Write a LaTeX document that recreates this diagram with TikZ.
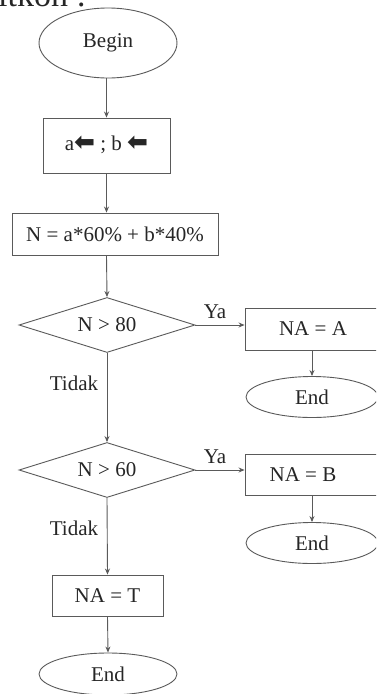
\documentclass[tikz,border=0pt]{standalone}
\usepackage{fontspec}
\setmainfont{Liberation Serif}
\newfontfamily\symfont{DejaVu Sans}
\usetikzlibrary{shapes.geometric,arrows.meta}
\definecolor{inkline}{HTML}{5A5A5A}
\definecolor{inktext}{HTML}{262626}
\newcommand{\leftarr}{{\symfont\bfseries\fontsize{25}{25}\selectfont ⬅}}
\tikzset{
  base/.style={draw=inkline, line width=0.9pt, text=inktext, font=\fontsize{21}{24}\selectfont, inner sep=0pt},
  terminal/.style={base, ellipse},
  procbox/.style={base, rectangle},
  decision/.style={base, diamond, aspect=3.2},
  flow/.style={draw=inkline, line width=0.9pt, -{Stealth[length=6pt,width=5pt]}},
  tag/.style={text=inktext, font=\fontsize{21}{24}\selectfont, inner sep=0pt},
}
\begin{document}
\begin{tikzpicture}[x=1pt, y=-1pt]
  \useasboundingbox (0,0) rectangle (376,694);
  \clip (0,0) rectangle (376,694);
  \fill[white] (0,0) rectangle (376,694);

  % heading line, mostly above the page edge
  \node[tag, anchor=base west, font=\fontsize{34}{38}\selectfont] (head) at (-2,6) {itkon :};

  % main column
  \node[terminal, minimum width=138pt, minimum height=70pt] (begin) at (108,43) {\raisebox{4pt}{Begin}};
  \node[procbox, minimum width=127pt, minimum height=55pt] (input) at (106.5,145.5)
    {\raisebox{5pt}{a\leftarr\ ; b \leftarr}};
  \node[procbox, minimum width=206pt, minimum height=42pt] (calc) at (115,234) {N = a*60\% + b*40\%};
  \node[decision, minimum width=176pt, minimum height=55pt] (d1) at (107,325) {N > 80};
  \node[decision, minimum width=176pt, minimum height=55pt] (d2) at (107,470) {N > 60};
  \node[procbox, minimum width=111pt, minimum height=41pt] (naT) at (107.5,595.5) {NA = T};
  \node[terminal, minimum width=138pt, minimum height=42pt] (end3) at (108,674) {End};

  % right branch
  \node[procbox, minimum width=136pt, minimum height=42pt] (naA) at (313,329) {NA = A};
  \node[terminal, minimum width=132pt, minimum height=41pt] (end1) at (312,397) {End};
  \node[procbox, minimum width=136pt, minimum height=41pt] (naB) at (313,474.5) {\hspace*{-20pt}NA = B};
  \node[terminal, minimum width=132pt, minimum height=41pt] (end2) at (312,543) {End};

  % branch labels
  \node[tag] (ya1) at (215,312) {Ya};
  \node[tag] (ya2) at (215,457) {Ya};
  \node[tag] (no1) at (74,383) {Tidak};
  \node[tag] (no2) at (74,528) {Tidak};

  % connectors
  \draw[flow] (begin.south -| input.north) -- (input.north);
  \draw[flow] (input.south) -- (input.south |- calc.north);
  \draw[flow] (input.south |- calc.south) -- (d1.north);
  \draw[flow] (d1.south) -- (d2.north);
  \draw[flow] (d2.south) -- (naT.north);
  \draw[flow] (naT.south) -- (end3.north);
  \draw[flow] (d1.east) -- (d1.east -| naA.west);
  \draw[flow] (d2.east) -- (d2.east -| naB.west);
  \draw[flow] (naA.south -| end1.north) -- (end1.north);
  \draw[flow] (naB.south -| end2.north) -- (end2.north);
\end{tikzpicture}
\end{document}
